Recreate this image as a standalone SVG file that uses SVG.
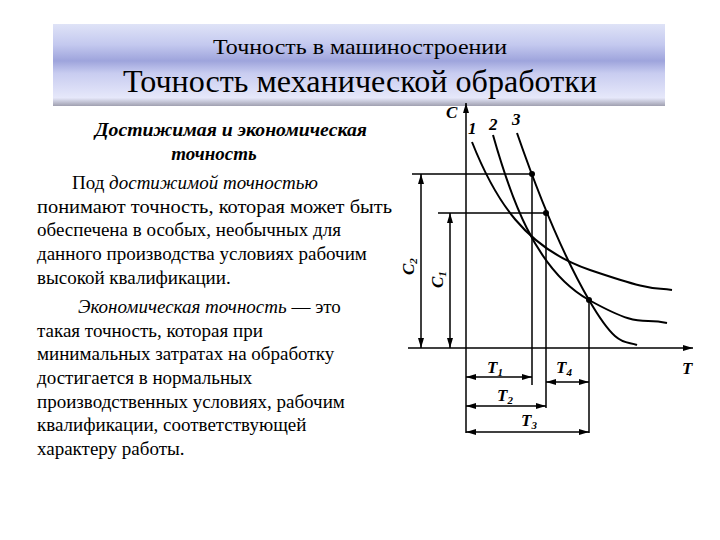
<svg xmlns="http://www.w3.org/2000/svg" width="720" height="540" viewBox="0 0 720 540" font-family="'Liberation Serif','Times New Roman','DejaVu Serif',serif">
<defs>
<linearGradient id="bg" x1="0" y1="0" x2="0" y2="1">
<stop offset="0" stop-color="#dfe3f7"/><stop offset="0.25" stop-color="#c4c9ef"/><stop offset="0.45" stop-color="#9ea4dc"/><stop offset="0.6" stop-color="#c8ccf0"/><stop offset="0.9" stop-color="#e6e8fa"/><stop offset="1" stop-color="#a0a0b0"/>
</linearGradient>
<marker id="a" viewBox="0 0 10 6" refX="10" refY="3" markerWidth="10" markerHeight="6" orient="auto-start-reverse" markerUnits="userSpaceOnUse"><path d="M0,0L10,3L0,6z" fill="#000"/></marker>
</defs>
<style>
text{font-family:"Liberation Serif","Times New Roman","DejaVu Serif",serif;fill:#000}
.l{font-weight:bold;font-style:italic;font-size:17px}
.ln{stroke:#000;stroke-width:1.5;fill:none}
.c{stroke:#000;stroke-width:2;fill:none}
</style>
<rect width="720" height="540" fill="#fff"/>
<g id="banner">
<rect x="53" y="24" width="612" height="82" fill="url(#bg)"/>
<text x="360" y="54" font-size="22" text-anchor="middle" textLength="294" lengthAdjust="spacingAndGlyphs">Точность в машиностроении</text>
<text x="360" y="92" font-size="32" text-anchor="middle" textLength="474" lengthAdjust="spacingAndGlyphs">Точность механической обработки</text>
</g>
<g id="text" font-size="19">
<text x="231" y="136" text-anchor="middle" font-weight="bold" font-style="italic" textLength="272" lengthAdjust="spacingAndGlyphs">Достижимая и экономическая</text>
<text x="214" y="160" text-anchor="middle" font-weight="bold" font-style="italic">точность</text>
<text x="72" y="189">Под <tspan font-style="italic">достижимой точностью</tspan></text>
<text x="37" y="213" textLength="355" lengthAdjust="spacingAndGlyphs">понимают точность, которая может быть</text>
<text x="37" y="236">обеспечена в особых, необычных для</text>
<text x="37" y="260">данного производства условиях рабочим</text>
<text x="37" y="284">высокой квалификации.</text>
<text x="78" y="313"><tspan font-style="italic">Экономическая точность</tspan> — это</text>
<text x="37" y="337">такая точность, которая при</text>
<text x="37" y="360">минимальных затратах на обработку</text>
<text x="37" y="384">достигается в нормальных</text>
<text x="37" y="408">производственных условиях, рабочим</text>
<text x="37" y="431">квалификации, соответствующей</text>
<text x="37" y="455">характеру работы.</text>
</g>
<g id="axes">
<line class="ln" x1="466" y1="433" x2="466" y2="103" marker-end="url(#a)"/>
<line class="ln" x1="408" y1="348" x2="693" y2="348" marker-end="url(#a)"/>
</g>
<g id="curves">
<path class="c" d="M472,142 C495,200 525,248 590,270 S650,287 672,290"/>
<path class="c" d="M493,135 C510,195 535,270 589,300 S640,317 667,323"/>
<path class="c" d="M517,133 C535,185 560,250 589,300 S625,340 637,345"/>
<circle cx="532" cy="174" r="3"/><circle cx="546" cy="213" r="3"/><circle cx="589" cy="300" r="3"/>
</g>
<g id="connectors">
<path class="ln" d="M412,174H532V385M438,213H546V408M589,300V433"/>
<line class="ln" x1="421" y1="174" x2="421" y2="348" marker-start="url(#a)" marker-end="url(#a)"/>
<line class="ln" x1="450" y1="213" x2="450" y2="348" marker-start="url(#a)" marker-end="url(#a)"/>
<line class="ln" x1="466" y1="377" x2="532" y2="377" marker-start="url(#a)" marker-end="url(#a)"/>
<line class="ln" x1="546" y1="382" x2="589" y2="382" marker-start="url(#a)" marker-end="url(#a)"/>
<line class="ln" x1="466" y1="406" x2="546" y2="406" marker-start="url(#a)" marker-end="url(#a)"/>
<line class="ln" x1="466" y1="432" x2="589" y2="432" marker-start="url(#a)" marker-end="url(#a)"/>
</g>
<g id="labels" class="l" font-weight="bold" font-style="italic" font-size="17">
<text x="446" y="118">C</text>
<text x="468" y="134">1</text><text x="489" y="130">2</text><text x="512" y="125">3</text>
<text x="682" y="374">T</text>
<text x="487" y="373">T<tspan font-size="11" dy="3">1</tspan></text>
<text x="556" y="373">T<tspan font-size="11" dy="3">4</tspan></text>
<text x="497" y="401">T<tspan font-size="11" dy="3">2</tspan></text>
<text x="521" y="426">T<tspan font-size="11" dy="3">3</tspan></text>
<text transform="translate(414,275) rotate(-90)">C<tspan font-size="11" dy="3">2</tspan></text>
<text transform="translate(443,288) rotate(-90)">C<tspan font-size="11" dy="3">1</tspan></text>
</g>
</svg>
